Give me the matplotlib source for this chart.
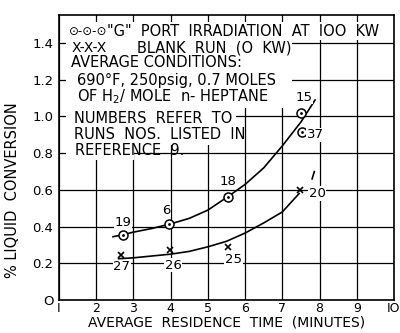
import matplotlib
matplotlib.use('Agg')
import matplotlib.pyplot as plt
from matplotlib.patches import Rectangle

# irradiated runs (circles) and blank runs (x)
g_time = [2.72, 3.96, 5.53, 7.50, 7.52]
g_conv = [0.354, 0.414, 0.563, 1.02, 0.917]
g_runs = ['19', '6', '18', '15', '37']

b_time = [2.67, 3.98, 5.53, 7.48]
b_conv = [0.245, 0.27, 0.29, 0.60]
b_runs = ['27', '26', '25', '20']

# hand-drawn curves
g_curve_x = [2.45, 2.7, 3.0, 3.5, 4.0, 4.5, 5.0, 5.55, 6.0, 6.5, 7.0, 7.5, 7.88]
g_curve_y = [0.345, 0.355, 0.37, 0.39, 0.415, 0.445, 0.49, 0.565, 0.63, 0.72, 0.84, 0.97, 1.09]
b_curve_x = [2.6, 3.0, 3.5, 4.0, 4.5, 5.0, 5.5, 6.0, 6.5, 7.0, 7.45]
b_curve_y = [0.225, 0.23, 0.24, 0.25, 0.265, 0.29, 0.32, 0.365, 0.42, 0.48, 0.58]

x_ticks = [1, 2, 3, 4, 5, 6, 7, 8, 9, 10]
x_labels = ['I', '2', '3', '4', '5', '6', '7', '8', '9', 'IO']
y_ticks = [0, 0.2, 0.4, 0.6, 0.8, 1.0, 1.2, 1.4]
y_labels = ['O', '0.2', '0.4', '0.6', '0.8', '1.0', '1.2', '1.4']

legend_lines = [
    '"G"  PORT  IRRADIATION  AT  IOO  KW',
    'BLANK  RUN  (O  KW)',
    'AVERAGE CONDITIONS:',
    '690°F, 250psig, 0.7 MOLES',
    'OF H$_2$/ MOLE  n- HEPTANE',
    'NUMBERS  REFER  TO',
    'RUNS  NOS.  LISTED  IN',
    'REFERENCE  9.',
]

fig = plt.figure(figsize=(4, 3.33), dpi=100)
ax = fig.add_axes([0.1475, 0.099, 0.8375, 0.856])
ax.set_xlim(1, 10)
ax.set_ylim(0, 1.553)

for x in x_ticks:
    ax.axvline(x, color='k', lw=0.9, zorder=1)
for y in y_ticks:
    ax.axhline(y, color='k', lw=0.9, zorder=1)

tr = ax.transAxes
px = lambda x, y: ((x - 59) / 335.0, (300 - y) / 285.0)

# white paper under the notes block hides the grid there
for x0, y0, x1, y1 in [(66, 22, 392, 40), (66, 40, 292, 108),
                       (66, 108, 236, 145), (66, 145, 134, 160)]:
    a0, b1 = px(x0, y0)
    a1, b0 = px(x1, y1)
    ax.add_patch(Rectangle((a0, b0), a1 - a0, b1 - b0, transform=tr,
                           facecolor='white', edgecolor='none', zorder=2))

ax.plot(g_curve_x, g_curve_y, color='k', lw=1.2, zorder=3)
ax.plot(b_curve_x, b_curve_y, color='k', lw=1.2, zorder=3)
ax.plot([7.80, 7.86], [0.66, 0.70], color='k', lw=1.2, zorder=3)

ax.plot(g_time, g_conv, 'o', ms=6.5, mfc='white', mec='k', mew=1.1, zorder=4)
ax.plot(g_time, g_conv, '.', ms=2, color='k', zorder=5)
ax.plot(b_time, b_conv, 'x', ms=4.5, color='k', mew=1.2, zorder=4)

box = dict(facecolor='white', edgecolor='none', pad=0.5)
lbl_g = [(2.72, 0.42), (3.87, 0.49), (5.55, 0.645), (7.58, 1.105), (7.88, 0.90)]
for (lx, ly), r in zip(lbl_g, g_runs):
    ax.text(lx, ly, r, fontsize=9.5, ha='center', va='center', bbox=box, zorder=6)
lbl_b = [(2.69, 0.18), (4.07, 0.19), (5.69, 0.22), (7.93, 0.58)]
for (lx, ly), r in zip(lbl_b, b_runs):
    ax.text(lx, ly, r, fontsize=9.5, ha='center', va='center', bbox=box, zorder=6)

# notes block, positions in figure pixels
rows = [(107, 32), (137, 48), (71, 63), (77, 80), (77, 97), (74, 118), (74, 134), (75, 150)]
for (x, y), s in zip(rows, legend_lines):
    ax.text(*px(x, y), s, transform=tr, fontsize=10.5, ha='left', va='center', zorder=6)
ax.text(*px(69, 32), '⊙-⊙-⊙', transform=tr, fontsize=8.5, ha='left', va='center', zorder=6)
ax.text(*px(72, 48), 'X-X-X', transform=tr, fontsize=10, ha='left', va='center', zorder=6)

ax.set_xticks(x_ticks)
ax.set_xticklabels(x_labels, fontsize=9)
ax.set_yticks(y_ticks)
ax.set_yticklabels(y_labels, fontsize=9.5)
ax.tick_params(axis='x', length=0, pad=1.5)
ax.tick_params(axis='y', length=0, pad=4)
for sp in ax.spines.values():
    sp.set_linewidth(1.2)
ax.set_xlabel('AVERAGE  RESIDENCE  TIME  (MINUTES)', fontsize=10)
ax.set_ylabel('% LIQUID  CONVERSION', fontsize=10.5)
ax.xaxis.set_label_coords(0.5, -0.055)
ax.yaxis.set_label_coords(-0.115, 0.386)

fig.savefig('out.png', dpi=100)
